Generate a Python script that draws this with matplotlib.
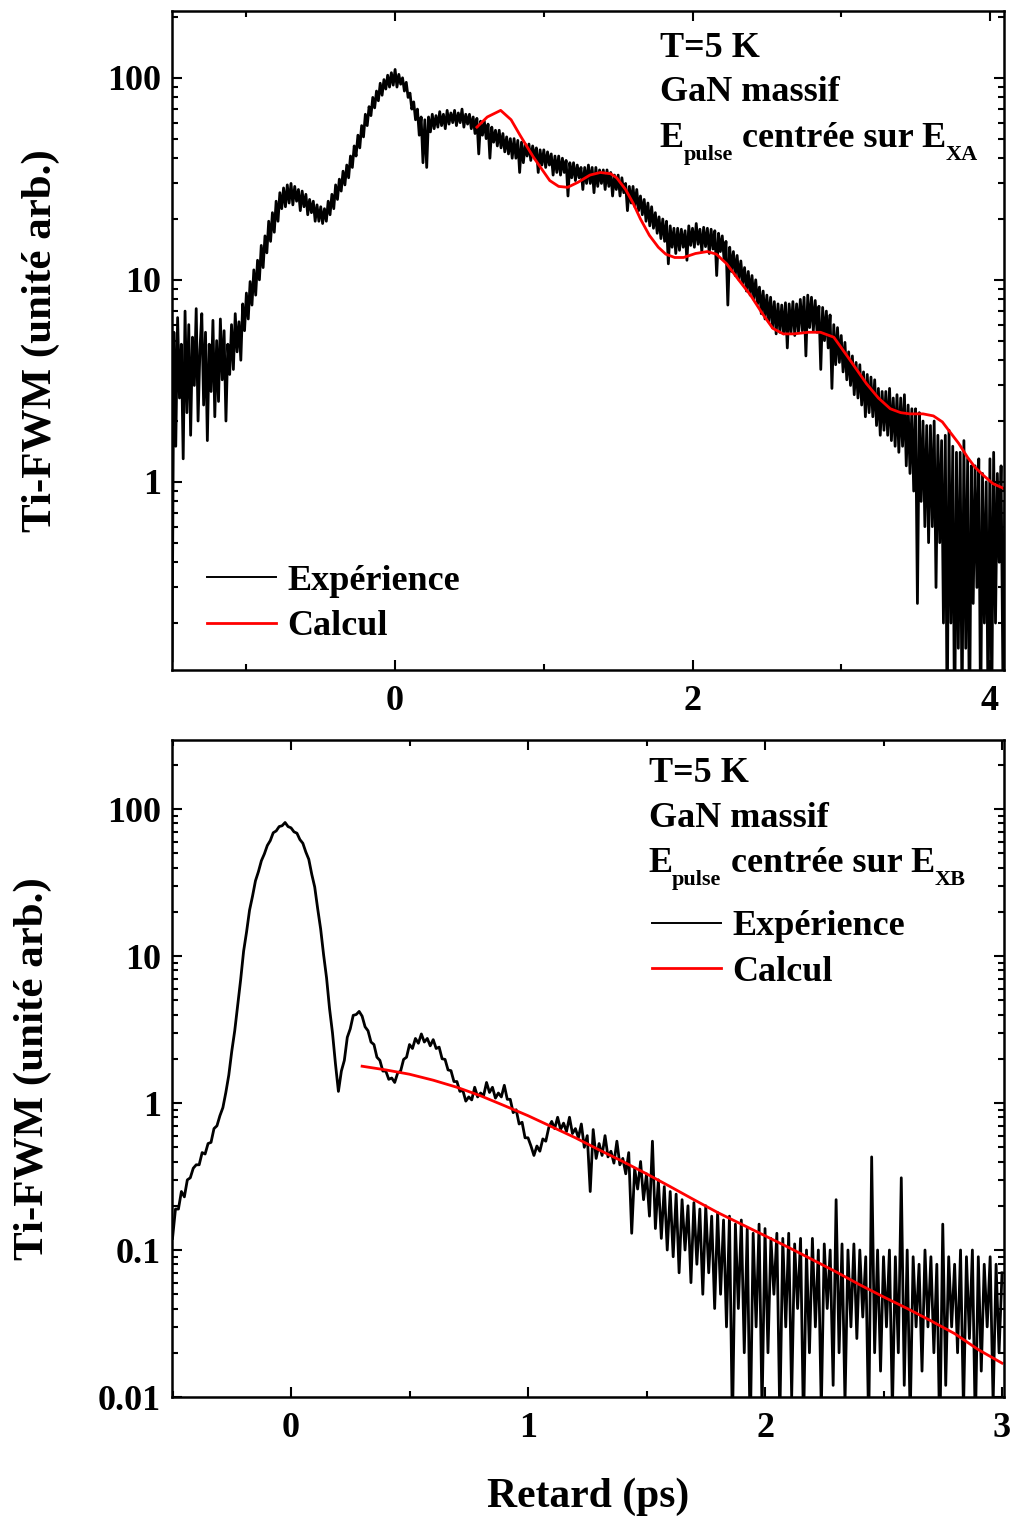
import numpy as np
import matplotlib
matplotlib.use("Agg")
import matplotlib.pyplot as plt
from matplotlib.ticker import MultipleLocator, LogLocator, FuncFormatter, NullFormatter

plt.rcParams['font.family'] = ['Liberation Serif', 'DejaVu Serif']
plt.rcParams['font.weight'] = 'bold'

# ---------------- data: top panel (E_XA) ----------------
top_delay = np.linspace(-1.5, 4.1, 449)
top_exp = [
    0.13, 5.5, 1.5, 6.5, 2.6, 4.8, 1.3, 7.0,
    2.2, 6.0, 1.7, 5.2, 3.0, 7.2, 2.0, 4.5,
    6.8, 2.4, 5.5, 1.6, 4.8, 2.8, 6.3, 2.1,
    5.0, 2.5, 6.4, 3.2, 5.6, 2.0, 4.8, 3.4,
    6.0, 3.6, 6.8, 4.4, 6.2, 4.0, 7.6, 5.6,
    8.6, 6.4, 9.8, 7.5, 11.2, 8.4, 12.5, 10.0,
    14.8, 11.5, 16.5, 13.6, 19.5, 15.5, 21.5, 17.2,
    24.5, 19.5, 27, 22.5, 28.5, 23, 29.5, 24,
    30, 23.5, 29, 24.5, 28, 22, 27.5, 23,
    26.5, 21, 25, 21.5, 24.5, 19.5, 23.5, 19.5,
    23, 19, 22.5, 19.5, 24.5, 21, 26.5, 22.5,
    29.5, 25, 31.5, 27.5, 34.5, 29.5, 37, 32,
    41, 36, 46, 41, 52, 45, 58, 51,
    66, 58, 72, 65, 80, 71, 86, 77,
    94, 82, 98, 88, 103, 90, 106, 92,
    110, 90, 104, 93, 100, 86, 95, 80,
    84, 70, 76, 62, 70, 52, 64, 38,
    62, 36, 64, 54, 66, 56, 65, 57,
    68, 58, 66, 56, 69, 59, 67, 60,
    69, 58, 67, 60, 70, 57, 66, 59,
    66, 56, 64, 53, 63, 42, 61, 52,
    61, 50, 59, 40, 57, 48, 55, 46,
    55, 45, 53, 43, 51, 42, 50, 40,
    50, 40, 49, 34, 48, 38, 47, 41,
    47, 39, 46, 40, 45, 34, 44, 37,
    44, 36, 43, 37, 42, 33, 41, 34,
    41, 33, 40, 34, 39, 26, 38, 32,
    38, 31, 37, 32, 36, 28, 36, 30,
    37, 30, 36, 27, 36, 29, 35, 30,
    35, 28, 35, 29, 34, 26, 33, 28,
    33, 26, 32, 27, 30, 22, 29, 24,
    29, 23, 28, 22, 26, 21, 25, 19.5,
    24, 18.5, 23, 18, 21.5, 17, 20.5, 16,
    20, 15.5, 19.5, 12, 18.5, 14.5, 18, 13.5,
    18, 14, 17.8, 14.5, 17.5, 12.5, 18.5, 14.8,
    18, 14.5, 19, 15, 17.8, 13.8, 18.2, 14.6,
    18, 13.5, 17.8, 14.2, 17.5, 10.5, 17, 13.8,
    16.5, 12.5, 15.5, 7.5, 14.5, 11, 13.8, 10.5,
    13.2, 10, 12.4, 9.6, 11.5, 8.8, 11, 8.4,
    10.5, 8.0, 10, 7.6, 9.2, 6.8, 8.8, 6.4,
    8.4, 6.2, 8.2, 5.8, 7.8, 5.4, 7.6, 5.5,
    7.5, 5.4, 7.7, 4.6, 7.6, 5.5, 7.8, 5.3,
    7.6, 5.5, 8.0, 5.6, 8.2, 4.2, 8.4, 5.8,
    8.2, 5.6, 7.9, 5.5, 7.4, 3.6, 7.3, 5.0,
    7.0, 4.6, 6.7, 2.9, 6.0, 3.8, 5.8, 3.9,
    5.3, 3.5, 4.9, 3.2, 4.4, 3.0, 4.2, 2.7,
    3.9, 2.6, 3.8, 2.4, 3.5, 2.1, 3.4, 2.2,
    3.3, 2.1, 3.2, 1.9, 2.9, 1.7, 2.8, 1.8,
    2.8, 1.7, 2.9, 1.6, 2.6, 1.5, 2.7, 1.4,
    2.6, 1.5, 2.7, 1.2, 2.4, 1.1, 2.3, 0.9,
    2.3, 0.25, 2.2, 0.8, 2.0, 0.6, 1.9, 0.5,
    1.9, 0.6, 2.0, 0.3, 1.7, 0.5, 1.6, 0.2,
    1.7, 0.06, 1.8, 0.2, 1.5, 0.05, 1.4, 0.15,
    1.4, 0.07, 1.6, 0.15, 1.3, 0.05, 1.2, 0.25,
    1.2, 0.3, 1.3, 0.06, 1.1, 0.2, 1.0, 0.07,
    1.3, 0.08, 1.4, 0.2, 1.1, 0.4, 1.2, 0.1,
    0.8,
]
top_calc_delay = [0.55, 0.62, 0.71, 0.78, 0.84, 0.93, 1.04, 1.10, 1.16, 1.23, 1.31,
                  1.38, 1.45, 1.49, 1.55, 1.60, 1.65, 1.71, 1.77, 1.82, 1.88, 1.94,
                  2.02, 2.10, 2.16, 2.23, 2.31, 2.39, 2.47, 2.54, 2.61, 2.68, 2.78,
                  2.86, 2.95, 3.06, 3.17, 3.25, 3.33, 3.40, 3.46, 3.55, 3.62, 3.68,
                  3.73, 3.79, 3.85, 3.90, 3.96, 4.02, 4.09]
top_calc = [57, 64, 69, 62, 52, 40.5, 31, 29, 28.7, 30.4, 33,
            34, 33.5, 32, 28, 24, 20, 16.6, 14.5, 13.4, 12.9, 12.9,
            13.5, 13.8, 13.4, 12.0, 10.0, 8.4, 6.8, 5.75, 5.4, 5.4, 5.5,
            5.5, 5.2, 4.0, 3.06, 2.6, 2.3, 2.2, 2.17, 2.17, 2.12, 1.98,
            1.77, 1.55, 1.32, 1.18, 1.07, 0.98, 0.93]

# ---------------- data: bottom panel (E_XB) ----------------
bot_delay = np.linspace(-0.5, 3.0, 281)
bot_exp = [
    0.12, 0.19, 0.19, 0.25, 0.23, 0.30, 0.31, 0.36,
    0.38, 0.38, 0.46, 0.45, 0.53, 0.54, 0.67, 0.70,
    0.82, 0.93, 1.18, 1.55, 2.25, 3.1, 4.6, 6.9,
    10.8, 14.6, 20.5, 25.5, 32.5, 37.5, 44.5, 49.5,
    56.5, 61, 69, 71, 76, 77, 81, 76,
    74.5, 70, 68.5, 62, 58.5, 51, 45.5, 36,
    29.5, 21, 15.3, 10.2, 7.1, 4.4, 3.0, 1.85,
    1.2, 1.65, 1.95, 2.8, 3.2, 3.95, 4.0, 4.2,
    3.9, 3.3, 3.1, 2.6, 2.5, 2.05, 1.95, 1.65,
    1.65, 1.45, 1.48, 1.38, 1.6, 1.65, 1.98, 2.05,
    2.5, 2.35, 2.75, 2.55, 2.95, 2.6, 2.75, 2.45,
    2.7, 2.35, 2.4, 2.0, 1.98, 1.68, 1.66, 1.4,
    1.4, 1.2, 1.22, 1.03, 1.1, 1.05, 1.28, 1.1,
    1.17, 1.12, 1.38, 1.18, 1.28, 1.08, 1.17, 1.1,
    1.32, 1.06, 1.06, 0.86, 0.9, 0.72, 0.74, 0.58,
    0.58, 0.51, 0.44, 0.51, 0.47, 0.57, 0.55, 0.68,
    0.75, 0.67, 0.8, 0.66, 0.73, 0.64, 0.8, 0.62,
    0.67, 0.58, 0.72, 0.5, 0.6, 0.25, 0.66, 0.42,
    0.53, 0.44, 0.6, 0.43, 0.47, 0.39, 0.55, 0.38,
    0.42, 0.33, 0.46, 0.13, 0.36, 0.26, 0.4, 0.22,
    0.33, 0.17, 0.55, 0.14, 0.3, 0.12, 0.27, 0.1,
    0.25, 0.09, 0.24, 0.07, 0.22, 0.1, 0.2, 0.06,
    0.21, 0.08, 0.19, 0.05, 0.2, 0.07, 0.17, 0.04,
    0.18, 0.05, 0.16, 0.03, 0.17, 0.006, 0.15, 0.04,
    0.16, 0.02, 0.14, 0.005, 0.13, 0.03, 0.15, 0.008,
    0.14, 0.02, 0.12, 0.05, 0.13, 0.007, 0.12, 0.03,
    0.13, 0.01, 0.11, 0.04, 0.12, 0.006, 0.1, 0.02,
    0.12, 0.03, 0.1, 0.008, 0.11, 0.04, 0.1, 0.012,
    0.22, 0.02, 0.11, 0.009, 0.1, 0.03, 0.11, 0.025,
    0.1, 0.035, 0.09, 0.006, 0.43, 0.02, 0.1, 0.015,
    0.09, 0.03, 0.1, 0.008, 0.09, 0.02, 0.31, 0.012,
    0.1, 0.007, 0.09, 0.03, 0.08, 0.015, 0.1, 0.03,
    0.09, 0.02, 0.08, 0.005, 0.15, 0.012, 0.09, 0.03,
    0.08, 0.02, 0.1, 0.008, 0.09, 0.025, 0.1, 0.006,
    0.09, 0.015, 0.08, 0.03, 0.09, 0.009, 0.08, 0.02,
    0.07,
]
bot_calc_delay = [0.3, 0.4, 0.5, 0.6, 0.7, 0.8, 0.9, 1.0, 1.1, 1.2, 1.3, 1.4, 1.5, 1.6,
                  1.7, 1.8, 1.9, 2.0, 2.1, 2.2, 2.3, 2.4, 2.5, 2.6, 2.7, 2.8, 2.9, 3.0]
bot_calc = [1.78, 1.68, 1.57, 1.43, 1.28, 1.12, 0.96, 0.82, 0.69, 0.58, 0.48, 0.40, 0.33,
            0.27, 0.22, 0.18, 0.15, 0.125, 0.104, 0.086, 0.071, 0.058, 0.048, 0.040,
            0.033, 0.027, 0.021, 0.017]

labels_legend = ['Expérience', 'Calcul']
ylabel = 'Ti-FWM (unité arb.)'
xlabel = 'Retard (ps)'
notes = ['T=5 K', 'GaN massif']
top_sub = 'XA'
bot_sub = 'XB'

fig = plt.figure(figsize=(10.12, 15.17), dpi=100)
ax1 = fig.add_axes([0.170, 0.5583, 0.822, 0.4344])
ax2 = fig.add_axes([0.170, 0.0791, 0.822, 0.4331])

FS_TICK = 26
FS_TEXT = 26
FS_SUB = 16
FS_LABEL = 31


def fmt(v, pos):
    return '%g' % v


for ax in (ax1, ax2):
    ax.set_yscale('log')
    for s in ax.spines.values():
        s.set_linewidth(1.8)
    ax.yaxis.set_major_locator(LogLocator(base=10, numticks=20))
    ax.yaxis.set_minor_locator(LogLocator(base=10, subs=np.arange(2, 10), numticks=20))
    ax.yaxis.set_major_formatter(FuncFormatter(fmt))
    ax.yaxis.set_minor_formatter(NullFormatter())
    ax.tick_params(which='both', direction='in', top=True, right=True, width=1.5)
    ax.tick_params(which='major', length=7, labelsize=FS_TICK)
    ax.tick_params(which='minor', length=4.5)
    ax.tick_params(axis='x', which='major', pad=11)
    ax.tick_params(axis='y', which='major', pad=8)


def e_line(ax, x, y, sub):
    off = -7.0
    t0 = ax.text(x, y, 'E', transform=ax.transAxes, fontsize=FS_TEXT,
                 fontweight='bold', va='baseline', ha='left')
    t1 = ax.annotate('pulse', xy=(1, 0), xycoords=t0, xytext=(-0.5, off),
                     textcoords='offset points', fontsize=FS_SUB, fontweight='bold',
                     va='bottom', ha='left')
    t2 = ax.annotate(' centrée sur E', xy=(1, 0), xycoords=(t1, t0), xytext=(0, 0),
                     textcoords='offset points', fontsize=FS_TEXT, fontweight='bold',
                     va='bottom', ha='left')
    ax.annotate(sub, xy=(1, 0), xycoords=(t2, t0), xytext=(0, off),
                textcoords='offset points', fontsize=FS_SUB, fontweight='bold',
                va='bottom', ha='left')


# top panel
l1, = ax1.plot(top_delay, top_exp, color='black', lw=2.0)
l2, = ax1.plot(top_calc_delay, top_calc, color='red', lw=2.0)
ax1.set_xlim(-1.5, 4.094)
ax1.set_ylim(0.117, 214)
ax1.xaxis.set_major_locator(MultipleLocator(2))
ax1.xaxis.set_minor_locator(MultipleLocator(1))
ax1.set_ylabel(ylabel, fontsize=FS_LABEL, fontweight='bold')
ax1.yaxis.set_label_coords(-0.135, 0.5)
for txt, yy in zip(notes, [0.930, 0.863]):
    ax1.text(0.5865, yy, txt, transform=ax1.transAxes, fontsize=FS_TEXT,
             fontweight='bold', va='baseline', ha='left')
e_line(ax1, 0.5865, 0.794, top_sub)
leg1 = ax1.legend([l1, l2], labels_legend, loc='upper left', bbox_to_anchor=(0.042, 0.160),
                  frameon=False, handlelength=1.9, handletextpad=0.33,
                  labelspacing=0.34, borderpad=0, borderaxespad=0,
                  prop={'weight': 'bold', 'size': FS_TEXT})
leg1.get_lines()[0].set_linewidth(1.4)

# bottom panel
m1, = ax2.plot(bot_delay, bot_exp, color='black', lw=2.0)
m2, = ax2.plot(bot_calc_delay, bot_calc, color='red', lw=2.0)
ax2.set_xlim(-0.502, 3.008)
ax2.set_ylim(0.01, 295)
ax2.xaxis.set_major_locator(MultipleLocator(1))
ax2.xaxis.set_minor_locator(MultipleLocator(0.5))
ax2.set_ylabel(ylabel, fontsize=FS_LABEL, fontweight='bold')
ax2.yaxis.set_label_coords(-0.144, 0.5)
ax2.set_xlabel(xlabel, fontsize=30, fontweight='bold')
ax2.xaxis.set_label_coords(0.5, -0.123)
for txt, yy in zip(notes, [0.936, 0.868]):
    ax2.text(0.573, yy, txt, transform=ax2.transAxes, fontsize=FS_TEXT,
             fontweight='bold', va='baseline', ha='left')
e_line(ax2, 0.573, 0.799, bot_sub)
leg2 = ax2.legend([m1, m2], labels_legend, loc='upper left', bbox_to_anchor=(0.577, 0.741),
                  frameon=False, handlelength=1.9, handletextpad=0.33,
                  labelspacing=0.34, borderpad=0, borderaxespad=0,
                  prop={'weight': 'bold', 'size': FS_TEXT})
leg2.get_lines()[0].set_linewidth(1.4)

fig.savefig('out.png', dpi=100)
